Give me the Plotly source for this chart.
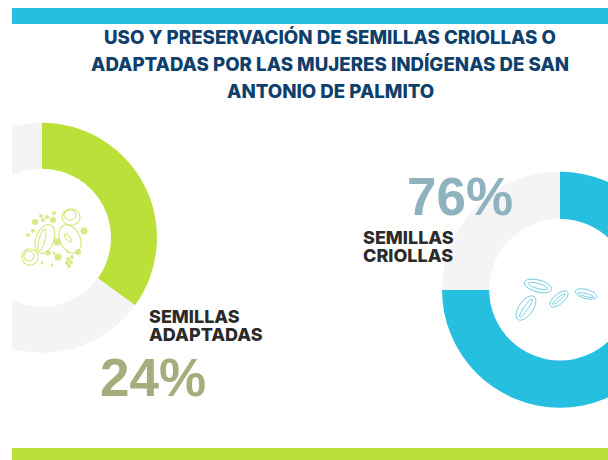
import numpy as np
import plotly.graph_objects as go

# Data: drawn arc shares and the printed labels
adaptadas_values = [35, 65]
criollas_values = [75, 25]
slice_names = ["Semillas", "Resto"]
title_lines = ["USO Y PRESERVACIÓN DE SEMILLAS CRIOLLAS O",
               "ADAPTADAS POR LAS MUJERES INDÍGENAS DE SAN",
               "ANTONIO DE PALMITO"]
label_adaptadas = ["SEMILLAS", "ADAPTADAS"]
label_criollas = ["SEMILLAS", "CRIOLLAS"]
pct_adaptadas = "24%"
pct_criollas = "76%"

BLUE, GREEN, GRAY = "#27bfe0", "#bbe03a", "#f4f4f4"
FONT = "Inter"
PCT_FONT = "Liberation Sans"
OFF_L, OFF_R = 73, 678          # canvas reaches past the window on both sides
W, H = OFF_L + OFF_R, 460


def domain(cx, cy, r):
    return dict(x=[(cx - r + OFF_L) / W, (cx + r + OFF_L) / W],
                y=[1 - (cy + r) / H, 1 - (cy - r) / H])


def ellipse(cx, cy, rx, ry, deg, color, width=1.0):
    t = np.linspace(0, 2 * np.pi, 40)
    a = np.radians(deg)
    x = cx + rx * np.cos(t) * np.cos(a) - ry * np.sin(t) * np.sin(a)
    y = cy + rx * np.cos(t) * np.sin(a) + ry * np.sin(t) * np.cos(a)
    path = "M" + "L".join(f"{p:.2f},{q:.2f}" for p, q in zip(x, y)) + "Z"
    return dict(type="path", path=path, xref="x", yref="y", layer="above",
                line=dict(color=color, width=width))


fig = go.Figure()
fig.add_trace(go.Pie(values=adaptadas_values, labels=slice_names, hole=0.6, sort=False,
                     direction="clockwise", rotation=0, textinfo="none", hoverinfo="skip",
                     marker=dict(colors=[GREEN, GRAY], line=dict(width=0)),
                     domain=domain(42, 237.7, 115), showlegend=False))
fig.add_trace(go.Pie(values=criollas_values, labels=slice_names, hole=0.6, sort=False,
                     direction="clockwise", rotation=0, textinfo="none", hoverinfo="skip",
                     marker=dict(colors=[BLUE, GRAY], line=dict(width=0)),
                     domain=domain(560, 289.7, 118), showlegend=False))

# Seed dots of the green icon
dots_x = [35, 28, 33, 41, 47, 43, 53, 54, 57, 84, 48, 54, 58, 42, 52, 68, 78, 72, 68, 71, 67, 69]
dots_y = [222, 235, 231, 216, 217, 220, 220, 213, 242, 231, 253, 253, 257, 263, 265, 252, 252, 257, 259, 262, 263, 266]
dots_s = [6, 4, 4, 4, 4, 4, 6, 4, 7, 7, 5, 3, 7, 3, 3, 3, 6, 4, 4, 4, 4, 4]
fig.add_trace(go.Scatter(x=dots_x, y=dots_y, mode="markers", hoverinfo="skip", showlegend=False,
                         marker=dict(color="#c2e252", size=dots_s, line=dict(width=0))))

shapes = [
    dict(type="rect", xref="x", yref="y", x0=-OFF_L, x1=12, y0=0, y1=460, layer="above",
         fillcolor="white", line=dict(width=0)),
    dict(type="rect", xref="x", yref="y", x0=12, x1=OFF_R, y0=8, y1=24, layer="above",
         fillcolor=BLUE, line=dict(width=0)),
    dict(type="rect", xref="x", yref="y", x0=12, x1=OFF_R, y0=448, y1=460, layer="above",
         fillcolor=GREEN, line=dict(width=0)),
]
for e in [(45, 239, 9, 15, 20), (70, 239, 10, 15, -25), (71, 217, 9, 8, 0), (30, 257, 8, 8, 0),
          (29, 256, 5, 5, 0), (70, 215, 6, 5, 0), (68, 238, 5, 2, 50), (42, 240, 3, 11, 15)]:
    shapes.append(ellipse(*e, "#cfe97a", 1.1))
for e in [(538, 286, 14, 6, 15), (538, 286, 10, 2.5, 15), (526, 308, 14, 7, -55), (526, 308, 11, 2, -55),
          (559, 299, 11, 5, -40), (559, 299, 8, 1.5, -40), (586, 294, 11, 4.5, 15), (586, 295, 8, 1.5, 15)]:
    shapes.append(ellipse(*e, "#6ccbe0", 1.0))

anns = []
for text, y in zip(title_lines, [37.5, 64.5, 91.5]):
    anns.append(dict(x=330, y=y, text=text, showarrow=False, xanchor="center", yanchor="middle",
                     font=dict(family=FONT, size=18.7, weight=800, color="#0e406b")))
for text, y in zip(label_adaptadas, [316.5, 334]):
    anns.append(dict(x=146.5, y=y, text=text, showarrow=False, xanchor="left", yanchor="middle",
                     font=dict(family=FONT, size=18, weight=800, color="#2b2b2b")))
for text, y in zip(label_criollas, [237, 255]):
    anns.append(dict(x=361, y=y, text=text, showarrow=False, xanchor="left", yanchor="middle",
                     font=dict(family=FONT, size=18, weight=800, color="#2b2b2b")))
anns.append(dict(x=153, y=377, text=f"<b>{pct_adaptadas}</b>", showarrow=False, xanchor="center",
                 yanchor="middle", font=dict(family=PCT_FONT, size=53, color="#a3ae7c")))
anns.append(dict(x=460, y=196, text=f"<b>{pct_criollas}</b>", showarrow=False, xanchor="center",
                 yanchor="middle", font=dict(family=PCT_FONT, size=53, color="#8fb2bf")))

fig.update_layout(width=W, height=H, margin=dict(l=0, r=0, t=0, b=0), autosize=False,
                  paper_bgcolor="white", plot_bgcolor="rgba(0,0,0,0)", showlegend=False,
                  shapes=shapes, annotations=anns,
                  xaxis=dict(visible=False, range=[-OFF_L, OFF_R], domain=[0, 1], fixedrange=True),
                  yaxis=dict(visible=False, range=[460, 0], domain=[0, 1], fixedrange=True))

shift = f"""
var gd = document.getElementById('{{plot_id}}');
document.documentElement.style.overflow = 'hidden';
document.body.style.margin = '0';
document.body.style.overflow = 'hidden';
gd.style.position = 'absolute';
gd.style.left = '-{OFF_L}px';
gd.style.top = '0px';
gd.style.width = '{W}px';
"""
fig.write_html("out.html", config=dict(displayModeBar=False), post_script=shift)
